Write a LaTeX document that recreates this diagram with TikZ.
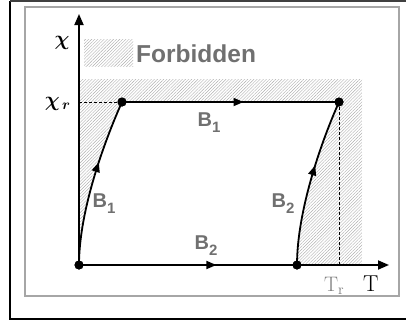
\documentclass[tikz,border=0pt]{standalone}
\usepackage{bm}
\usepackage{fontspec}
\setsansfont{Liberation Sans}
\usetikzlibrary{patterns.meta,decorations.markings,arrows.meta}
\definecolor{lblgray}{HTML}{707070}
\definecolor{hatchgray}{HTML}{ADADAD}
\begin{document}
\begin{tikzpicture}[x=1pt,y=-1pt,
  hatch/.style={fill=gray!14,pattern={Lines[angle=45,distance=2.2pt,line width=0.4pt]},pattern color=hatchgray},
  axis/.style={line width=1.8pt,-{Triangle[length=11pt,width=9pt]}},
  curve/.style={line width=1.8pt},
  midarrow/.style={postaction={decorate},decoration={markings,mark=at position #1 with {\arrow{Triangle[length=10pt,width=8pt]}}}},
  dot/.style={circle,fill=black,inner sep=0pt,minimum size=9pt},
  blabel/.style={text=lblgray,font=\sffamily\bfseries\fontsize{20}{20}\selectfont,inner sep=0pt},
  dashln/.style={dashed,line width=0.9pt,dash pattern=on 3pt off 2pt},
]
\useasboundingbox (0,0) rectangle (406,327);
% frames
\draw[line width=2.6pt] (10,1) -- (10,319) -- (406,319);
\draw[line width=1.5pt,black!75] (10,1) -- (406,1);
\draw[line width=1.4pt,gray!70] (25,7) rectangle (399,296);
% hatched forbidden region
\fill[hatch,even odd rule] (79,79) rectangle (362,265)
  (79,265) .. controls (79,210) and (105,140) .. (122,102) -- (339,102)
  .. controls (322,140) and (297,210) .. (297,265) -- cycle;
% legend
\fill[hatch] (84,39) rectangle (133,66);
\node[text=lblgray,font=\sffamily\bfseries\fontsize{24.5}{24.5}\selectfont,anchor=west,inner sep=0pt] (forb) at (136,54) {Forbidden};
% points
\node[dot] (O) at (79,265) {};
\node[dot] (A) at (122,102) {};
\node[dot] (B) at (339,102) {};
\node[dot] (C) at (297,265) {};
\coordinate (ytop) at (79,14);
\coordinate (xend) at (389,265);
\coordinate (yr) at (79,102);
\coordinate (Tr) at (339,265);
% dashed guides
\draw[dashln] (yr) -- (A.center);
\draw[dashln] (B.center) -- (Tr);
% axes
\draw[axis] (O.center) -- (ytop);
\draw[axis] (O.center) -- (xend);
% paths
\draw[curve,midarrow=0.62] (O.center) .. controls (79,210) and (105,140) .. (A.center);
\draw[curve,midarrow=0.56] (A.center) -- (B.center);
\draw[curve,midarrow=0.60] (C.center) .. controls (297,210) and (322,140) .. (B.center);
\draw[curve,midarrow=0.63] (O.center) -- (C.center);
% redraw dots on top
\node[dot] at (O) {};
\node[dot] at (A) {};
\node[dot] at (B) {};
\node[dot] at (C) {};
% labels
\node[font=\fontsize{22}{22}\selectfont,inner sep=0pt] (chi) at (62,43) {$\bm{\chi}$};
\node[font=\fontsize{22}{22}\selectfont,inner sep=0pt,anchor=east] (chir) at (71,104) {$\bm{\chi}_{\,\bm{r}}$};
\node[blabel] (b1top) at (209,123) {B\raisebox{-6pt}{\fontsize{15}{15}\selectfont 1}};
\node[blabel] (b1left) at (104,204) {B\raisebox{-6pt}{\fontsize{15}{15}\selectfont 1}};
\node[blabel] (b2right) at (283,204) {B\raisebox{-6pt}{\fontsize{15}{15}\selectfont 2}};
\node[blabel] (b2bot) at (206,246) {B\raisebox{-6pt}{\fontsize{15}{15}\selectfont 2}};
\node[text=gray,font=\fontsize{21}{21}\selectfont,inner sep=0pt,anchor=base west] (trlab) at (324,291) {T$_{\mathrm r}$};
\node[font=\fontsize{23}{23}\selectfont,inner sep=0pt,anchor=base west] (tlab) at (363,291) {T};
\end{tikzpicture}
\end{document}
